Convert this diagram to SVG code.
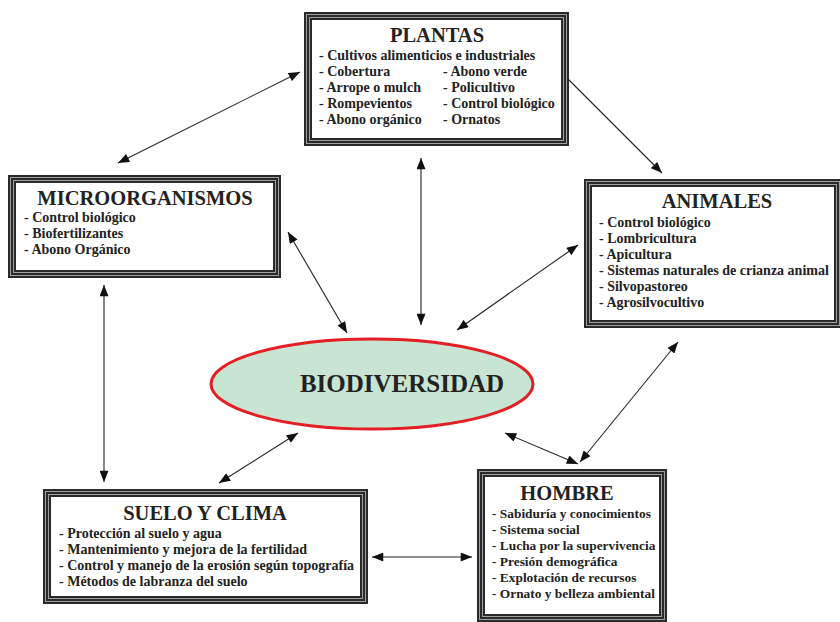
<svg xmlns="http://www.w3.org/2000/svg" width="840" height="622" viewBox="0 0 840 622">
<style>
.f1{fill:#fff;stroke:#2a2a2a;stroke-width:8}
.f2{fill:none;stroke:#a0a0a0;stroke-width:1}
.t{font-family:"Liberation Serif","Times New Roman",serif;font-weight:bold;fill:#222}
.h{font-size:20.5px;text-anchor:middle}
.i{font-size:14px}
.s{font-size:13.4px}
.c{fill:none;stroke:#222;stroke-width:1.1;marker-start:url(#a);marker-end:url(#a)}
</style>
<defs>
<marker id="a" viewBox="0 0 10 8" refX="10" refY="4" markerWidth="12" markerHeight="9" markerUnits="userSpaceOnUse" orient="auto-start-reverse">
<path d="M0,0 L10,4 L0,8 Z" fill="#111"/>
</marker>
</defs>
<rect width="840" height="622" fill="#fff"/>
<g id="connectors">
<line class="c" x1="118" y1="163" x2="300" y2="72"/>
<line class="c" x1="547" y1="58" x2="662" y2="173"/>
<line class="c" x1="421" y1="158" x2="421" y2="325"/>
<line class="c" x1="288" y1="232" x2="347" y2="333"/>
<line class="c" x1="578" y1="245" x2="457" y2="330"/>
<line class="c" x1="104" y1="285" x2="104" y2="482"/>
<line class="c" x1="298" y1="433" x2="219" y2="483"/>
<line class="c" x1="505" y1="433" x2="578" y2="464"/>
<line class="c" x1="678" y1="342" x2="580" y2="462"/>
<line class="c" x1="372" y1="557" x2="472" y2="557"/>
</g>
<g id="plantas">
<rect class="f1" x="308" y="16" width="257" height="126"/>
<rect class="f2" x="306.5" y="14.5" width="260" height="129"/>
<rect class="f2" x="309.5" y="17.5" width="254" height="123"/>
<text class="t h" x="437" y="42">PLANTAS</text>
<text class="t i" x="319" y="60">- Cultivos alimenticios e industriales</text>
<text class="t i" x="319" y="76">- Cobertura</text>
<text class="t i" x="319" y="92">- Arrope o mulch</text>
<text class="t i" x="319" y="108">- Rompevientos</text>
<text class="t i" x="319" y="124">- Abono orgánico</text>
<text class="t i" x="443" y="76">- Abono verde</text>
<text class="t i" x="443" y="92">- Policultivo</text>
<text class="t i" x="443" y="108">- Control biológico</text>
<text class="t i" x="443" y="124">- Ornatos</text>
</g>
<g id="microorganismos">
<rect class="f1" x="12" y="179" width="265" height="95"/>
<rect class="f2" x="10.5" y="177.5" width="268" height="98"/>
<rect class="f2" x="13.5" y="180.5" width="262" height="92"/>
<text class="t h" x="145" y="205">MICROORGANISMOS</text>
<text class="t i" x="24" y="222">- Control biológico</text>
<text class="t i" x="24" y="238">- Biofertilizantes</text>
<text class="t i" x="24" y="254">- Abono Orgánico</text>
</g>
<g id="animales">
<rect class="f1" x="588" y="183" width="250" height="141"/>
<rect class="f2" x="586.5" y="181.5" width="253" height="144"/>
<rect class="f2" x="589.5" y="184.5" width="247" height="138"/>
<text class="t h" x="717" y="208">ANIMALES</text>
<text class="t i" x="599" y="227">- Control biológico</text>
<text class="t i" x="599" y="243">- Lombricultura</text>
<text class="t i" x="599" y="259">- Apicultura</text>
<text class="t i" x="599" y="275">- Sistemas naturales de crianza animal</text>
<text class="t i" x="599" y="291">- Silvopastoreo</text>
<text class="t i" x="599" y="307">- Agrosilvocultivo</text>
</g>
<g id="biodiversidad">
<ellipse cx="372" cy="384" rx="161" ry="45" fill="#c8e5d3" stroke="#e31e24" stroke-width="3"/>
<text class="t" x="402" y="392" font-size="25" text-anchor="middle">BIODIVERSIDAD</text>
</g>
<g id="suelo">
<rect class="f1" x="47" y="493" width="317" height="107"/>
<rect class="f2" x="45.5" y="491.5" width="320" height="110"/>
<rect class="f2" x="48.5" y="494.5" width="314" height="104"/>
<text class="t h" x="205" y="520">SUELO Y CLIMA</text>
<text class="t i" x="59" y="538">- Protección al suelo y agua</text>
<text class="t i" x="59" y="554">- Mantenimiento y mejora de la fertilidad</text>
<text class="t i" x="59" y="570">- Control y manejo de la erosión según topografía</text>
<text class="t i" x="59" y="586">- Métodos de labranza del suelo</text>
</g>
<g id="hombre">
<rect class="f1" x="481" y="473" width="182" height="145"/>
<rect class="f2" x="479.5" y="471.5" width="185" height="148"/>
<rect class="f2" x="482.5" y="474.5" width="179" height="142"/>
<text class="t h" x="567" y="500">HOMBRE</text>
<text class="t s" x="492" y="518">- Sabiduría y conocimientos</text>
<text class="t s" x="492" y="534">- Sistema social</text>
<text class="t s" x="492" y="550">- Lucha por la supervivencia</text>
<text class="t s" x="492" y="566">- Presión demográfica</text>
<text class="t s" x="492" y="582">- Explotación de recursos</text>
<text class="t s" x="492" y="598">- Ornato y belleza ambiental</text>
</g>
</svg>
